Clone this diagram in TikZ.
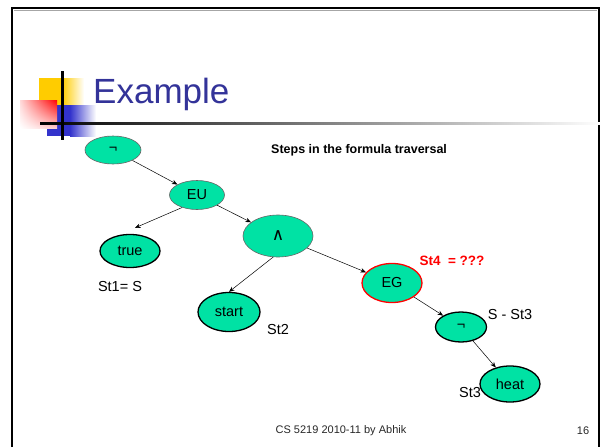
\documentclass[tikz,border=0pt]{standalone}
\usepackage{fontspec}
\setmainfont{Liberation Sans}
\newfontfamily\dejavu{DejaVu Sans}
\usetikzlibrary{shapes.geometric,arrows.meta,shadings}
\definecolor{nodegreen}{RGB}{0,226,164}
\definecolor{titleblue}{RGB}{51,51,153}
\definecolor{sqyellow}{RGB}{255,204,0}
\definecolor{sqblue}{RGB}{51,51,204}
\definecolor{sqred}{RGB}{255,0,0}
\definecolor{footgray}{RGB}{40,40,40}
\tikzset{
  ell/.style={ellipse, fill=nodegreen, inner sep=0pt, font=\fontsize{14.5}{16}\selectfont},
  thinb/.style={draw=black!60, line width=0.6pt},
  thickb/.style={draw=black, line width=1.3pt},
  redb/.style={draw=sqred, line width=1.3pt},
  arr/.style={-{Stealth[length=5.5pt,width=4.5pt]}, line width=0.5pt},
  lbl/.style={font=\fontsize{14.5}{16}\selectfont, inner sep=0pt},
  redlbl/.style={font=\bfseries\fontsize{13.5}{15}\selectfont, text=sqred, inner sep=0pt},
  foot/.style={font=\fontsize{11}{12}\selectfont, text=footgray, inner sep=0pt},
  frameline/.style={line width=2.5pt, black},
}
\begin{document}
\begin{tikzpicture}[x=1pt,y=-1pt]
\useasboundingbox (0,0) rectangle (602,447);
\fill[white] (0,0) rectangle (602,447);
% slide frame
\draw[frameline] (12,447) -- (12,8) -- (599,8) -- (599,447);
\draw[black!35, line width=0.6pt] (14,10.5) -- (597,10.5);
% title decoration
\fill[sqyellow] (39,78) rectangle (62,105);
\shade[left color=sqyellow, right color=white] (62,78) rectangle (84,105);
\fill[sqblue] (47,105) rectangle (70,136);
\shade[left color=sqblue, right color=white] (70,105) rectangle (96,136);
\shade[upper left=sqred!15, upper right=sqred, lower left=white, lower right=sqred!20] (20,100) rectangle (57,128);
\shade[left color=black, right color=white] (40,122) rectangle (602,124.5);
\fill[black] (61,71) rectangle (63.5,140);
\node[anchor=base west, inner sep=0pt, text=titleblue, font=\fontsize{35}{40}\selectfont] (title) at (93,103) {Example};
% nodes
\node[ell,thinb,minimum width=56pt,minimum height=28pt] (neg1) at (113,150) {¬};
\node[ell,thinb,minimum width=55pt,minimum height=29pt] (eu) at (197,195) {EU};
\node[ell,thinb,minimum width=70pt,minimum height=42pt,font=\dejavu\fontsize{17}{18}\selectfont] (and) at (278,236) {∧};
\node[ell,redb,minimum width=60pt,minimum height=39pt] (eg) at (392,283) {EG};
\node[ell,thickb,minimum width=51pt,minimum height=30pt] (neg2) at (461,327) {¬};
\node[ell,thickb,minimum width=60pt,minimum height=36pt] (heat) at (510,384) {heat};
\node[ell,thickb,minimum width=60pt,minimum height=33pt] (true) at (130,251) {true};
\node[ell,thickb,minimum width=62pt,minimum height=39pt] (start) at (229,312) {start};
% connectors
\draw[arr] (neg1) -- (eu);
\draw[arr] (eu.220) -- ([shift={(5pt,6pt)}]true.north);
\draw[arr] (eu) -- (and);
\draw[arr] (and.257) -- (start.north);
\draw[arr] (and) -- (eg);
\draw[arr] (eg) -- (neg2);
\draw[arr] (neg2) -- (heat);
% labels
\node[anchor=west, inner sep=0pt, font=\bfseries\fontsize{12.5}{14}\selectfont] (steps) at (271,150) {Steps in the formula traversal};
\node[lbl] (st1) at (120,287) {St1= S};
\node[lbl] (st2) at (278,330) {St2};
\node[redlbl] (st4) at (452,261) {St4\ \ = ???};
\node[lbl] (sst3) at (510,315) {S - St3};
\node[lbl] (st3) at (470,393) {St3};
\node[foot] (footer) at (341,431) {CS 5219 2010-11 by Abhik};
\node[foot] (page) at (583,431) {16};
\end{tikzpicture}
\end{document}
